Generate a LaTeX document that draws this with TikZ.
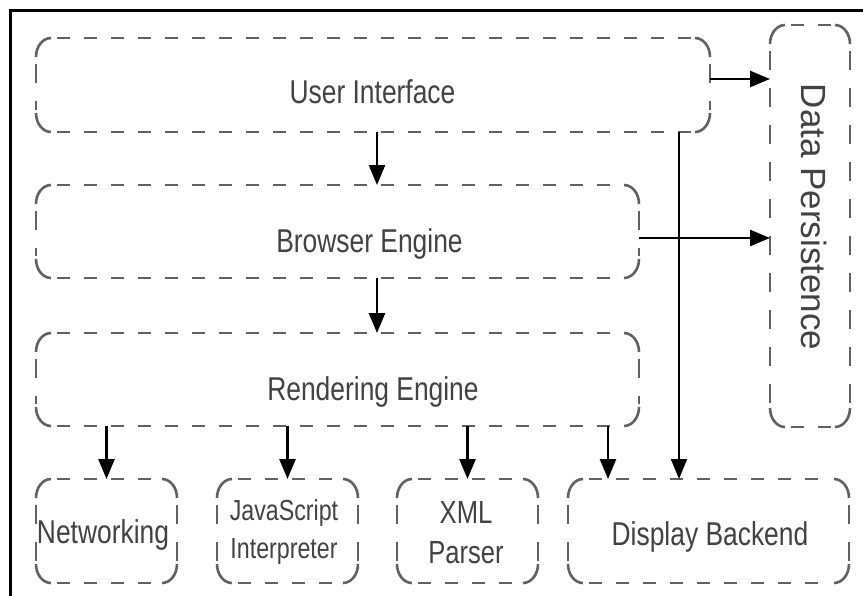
\documentclass[tikz,border=0pt]{standalone}
\usepackage{fontspec}
\setmainfont{Liberation Sans}[FakeStretch=0.8]
\newfontfamily\widefont{Liberation Sans}
\usetikzlibrary{arrows.meta}
\definecolor{edgegray}{HTML}{616161}
\definecolor{textgray}{HTML}{424242}
\tikzset{
  edge/.style={draw=edgegray, line width=2.6pt},
  hdash/.style={edge, dash pattern=on 13pt off 14pt},
  vdash/.style={edge, dash pattern=on 19pt off 18pt},
  box/.style={draw=none, inner sep=0pt, outer sep=0pt},
  lbl/.style={text=textgray, inner sep=0pt, font=\fontsize{33}{40}\selectfont},
  arr/.style={line width=2.6pt, -{Triangle[length=20pt,width=16pt]}},
  thinarr/.style={line width=1.8pt, -{Triangle[length=20pt,width=16pt]}},
}
% dashed rounded outline around a named node
\newcommand\dashedbox[1]{%
  \draw[hdash] ([xshift=21pt]#1.north west) -- ([xshift=-17pt]#1.north east);
  \draw[hdash] ([xshift=21pt]#1.south west) -- ([xshift=-17pt]#1.south east);
  \draw[vdash] ([yshift=-26pt]#1.north west) -- ([yshift=22pt]#1.south west);
  \draw[vdash] ([yshift=-26pt]#1.north east) -- ([yshift=22pt]#1.south east);
  \draw[edge] ([yshift=-19pt]#1.north west) arc[start angle=180,end angle=90,x radius=15pt,y radius=19pt];
  \draw[edge] ([xshift=-15pt]#1.north east) arc[start angle=90,end angle=0,x radius=15pt,y radius=19pt];
  \draw[edge] ([yshift=19pt]#1.south east) arc[start angle=0,end angle=-90,x radius=15pt,y radius=19pt];
  \draw[edge] ([xshift=15pt]#1.south west) arc[start angle=-90,end angle=-180,x radius=15pt,y radius=19pt];
}
\begin{document}
\begin{tikzpicture}[x=1pt, y=-1pt]
\useasboundingbox (0,0) rectangle (863,595);
\fill[white] (0,0) rectangle (863,595);
% outer frame
\draw[line width=3pt] (10,600) -- (10,10) -- (870,10);

% boxes
\node[box, minimum width=674pt, minimum height=94pt] (ui) at (373,85) {};
\node[box, minimum width=80pt, minimum height=402pt] (dp) at (810,226) {};
\node[box, minimum width=603pt, minimum height=93pt] (be) at (337.5,231.5) {};
\node[box, minimum width=603pt, minimum height=93pt] (re) at (337.5,379.5) {};
\node[box, minimum width=141pt, minimum height=104pt] (nw) at (106.5,531) {};
\node[box, minimum width=141pt, minimum height=104pt] (js) at (287.5,531) {};
\node[box, minimum width=141pt, minimum height=104pt] (xml) at (467.5,531) {};
\node[box, minimum width=281pt, minimum height=104pt] (db) at (708.5,531) {};

\foreach \b in {ui,dp,be,re,nw,js,xml,db} {\dashedbox{\b}}

% labels
\node[lbl, anchor=base] (ui-t) at (372.5,103) {User Interface};
\node[lbl, anchor=base] (be-t) at (369.5,252) {Browser Engine};
\node[lbl, anchor=base] (re-t) at (373,400) {Rendering Engine};
\node[lbl, anchor=base] (nw-t) at (103,543) {Networking};
\node[lbl, anchor=base] (db-t) at (710,545) {Display Backend};
\node[lbl, align=center, font=\fontsize{29}{38}\selectfont] (js-t) at (284,531.5) {JavaScript\\Interpreter};
\node[lbl, align=center, font=\fontsize{32}{40}\selectfont] (xml-t) at (466,533) {XML\\Parser};
\node[text=textgray, inner sep=0pt, font=\widefont\fontsize{35}{40}\selectfont, rotate=-90] (dp-t) at (814,217) {Data Persistence};

% connectors
\draw[arr] ([yshift=6pt]ui.east) -- ([yshift=6pt]ui.east -| dp.west);
\draw[arr] ([yshift=-6.5pt]be.east) -- ([yshift=-6.5pt]be.east -| dp.west);
\draw[arr] ([xshift=39.5pt]be.north |- ui.south) -- ([xshift=39.5pt]be.north);
\draw[arr] ([xshift=39.5pt]re.north |- be.south) -- ([xshift=39.5pt]re.north);
\draw[thinarr] ([xshift=-29.5pt]db.north |- ui.south) -- ([xshift=-29.5pt]db.north);
\draw[arr] (nw.north |- re.south) -- (nw.north);
\draw[arr] (js.north |- re.south) -- (js.north);
\draw[arr] (xml.north |- re.south) -- (xml.north);
\draw[arr] ([xshift=-100.5pt]db.north |- re.south) -- ([xshift=-100.5pt]db.north);
\end{tikzpicture}
\end{document}
